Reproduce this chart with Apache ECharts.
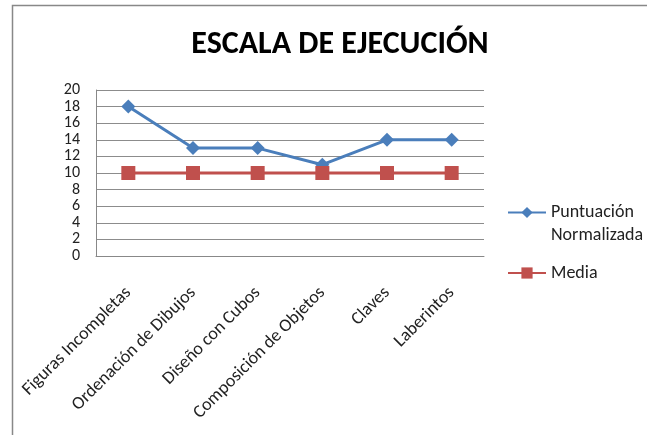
<!DOCTYPE html>
<html><head><meta charset="utf-8">
<script src="https://cdn.jsdelivr.net/npm/echarts@6/dist/echarts.min.js"></script>
<style>html,body{margin:0;padding:0;background:#fff}#c{width:647px;height:435px}</style>
</head><body><div id="c"></div>
<script>
var categories = ['Figuras Incompletas','Ordenación de Dibujos','Diseño con Cubos','Composición de Objetos','Claves','Laberintos'];
var puntuacion = [18, 13, 13, 11, 14, 14];
var media = [10, 10, 10, 10, 10, 10];
var yTicks = [0, 20, 2];
var FONT = "Carlito, 'Liberation Sans Narrow', 'Open Sans', sans-serif";
var chart = echarts.init(document.getElementById('c'), null, {renderer:'canvas'});
chart.setOption({
  animation:false,
  textStyle:{fontFamily:FONT},
  graphic:[{type:'rect',shape:{x:12.5,y:5.5,width:700,height:500},style:{fill:'none',stroke:'#888',lineWidth:1.5},silent:true}],
  title:{text:'ESCALA DE EJECUCIÓN',left:335,top:24,textAlign:'center',textStyle:{fontFamily:FONT,fontWeight:'bold',fontSize:32,color:'#000'}},
  grid:{left:96,top:90,width:388,height:166,containLabel:false},
  xAxis:{type:'category',data:categories,boundaryGap:true,
    axisLine:{lineStyle:{color:'#888',width:1}},axisTick:{show:false},
    axisLabel:{rotate:45,interval:0,margin:34,fontSize:18,color:'#222',fontFamily:FONT}},
  yAxis:{type:'value',min:yTicks[0],max:yTicks[1],interval:yTicks[2],
    axisLine:{show:true,lineStyle:{color:'#888'}},axisTick:{show:false},
    splitLine:{lineStyle:{color:'#8c8c8c',width:1}},
    axisLabel:{fontSize:16,color:'#222',margin:16,fontFamily:FONT}},
  legend:[
    {data:['Puntuación Normalizada'],orient:'vertical',left:507,top:178,padding:0,itemWidth:38,itemHeight:14,itemGap:0,
     formatter:function(){return ' \nPuntuación\nNormalizada';},
     textStyle:{fontSize:18,color:'#222',lineHeight:23,fontFamily:FONT}},
    {data:['Media'],orient:'vertical',left:507,top:264,padding:0,itemWidth:38,itemHeight:14,
     textStyle:{fontSize:18,color:'#222',fontFamily:FONT}}
  ],
  series:[
    {name:'Puntuación Normalizada',type:'line',data:puntuacion,symbol:'diamond',symbolSize:14,
     lineStyle:{color:'#4a7ebb',width:3},itemStyle:{color:'#4a7ebb'}},
    {name:'Media',type:'line',data:media,symbol:'rect',symbolSize:14,
     lineStyle:{color:'#c0504d',width:3},itemStyle:{color:'#c0504d'}}
  ]
});
</script></body></html>
